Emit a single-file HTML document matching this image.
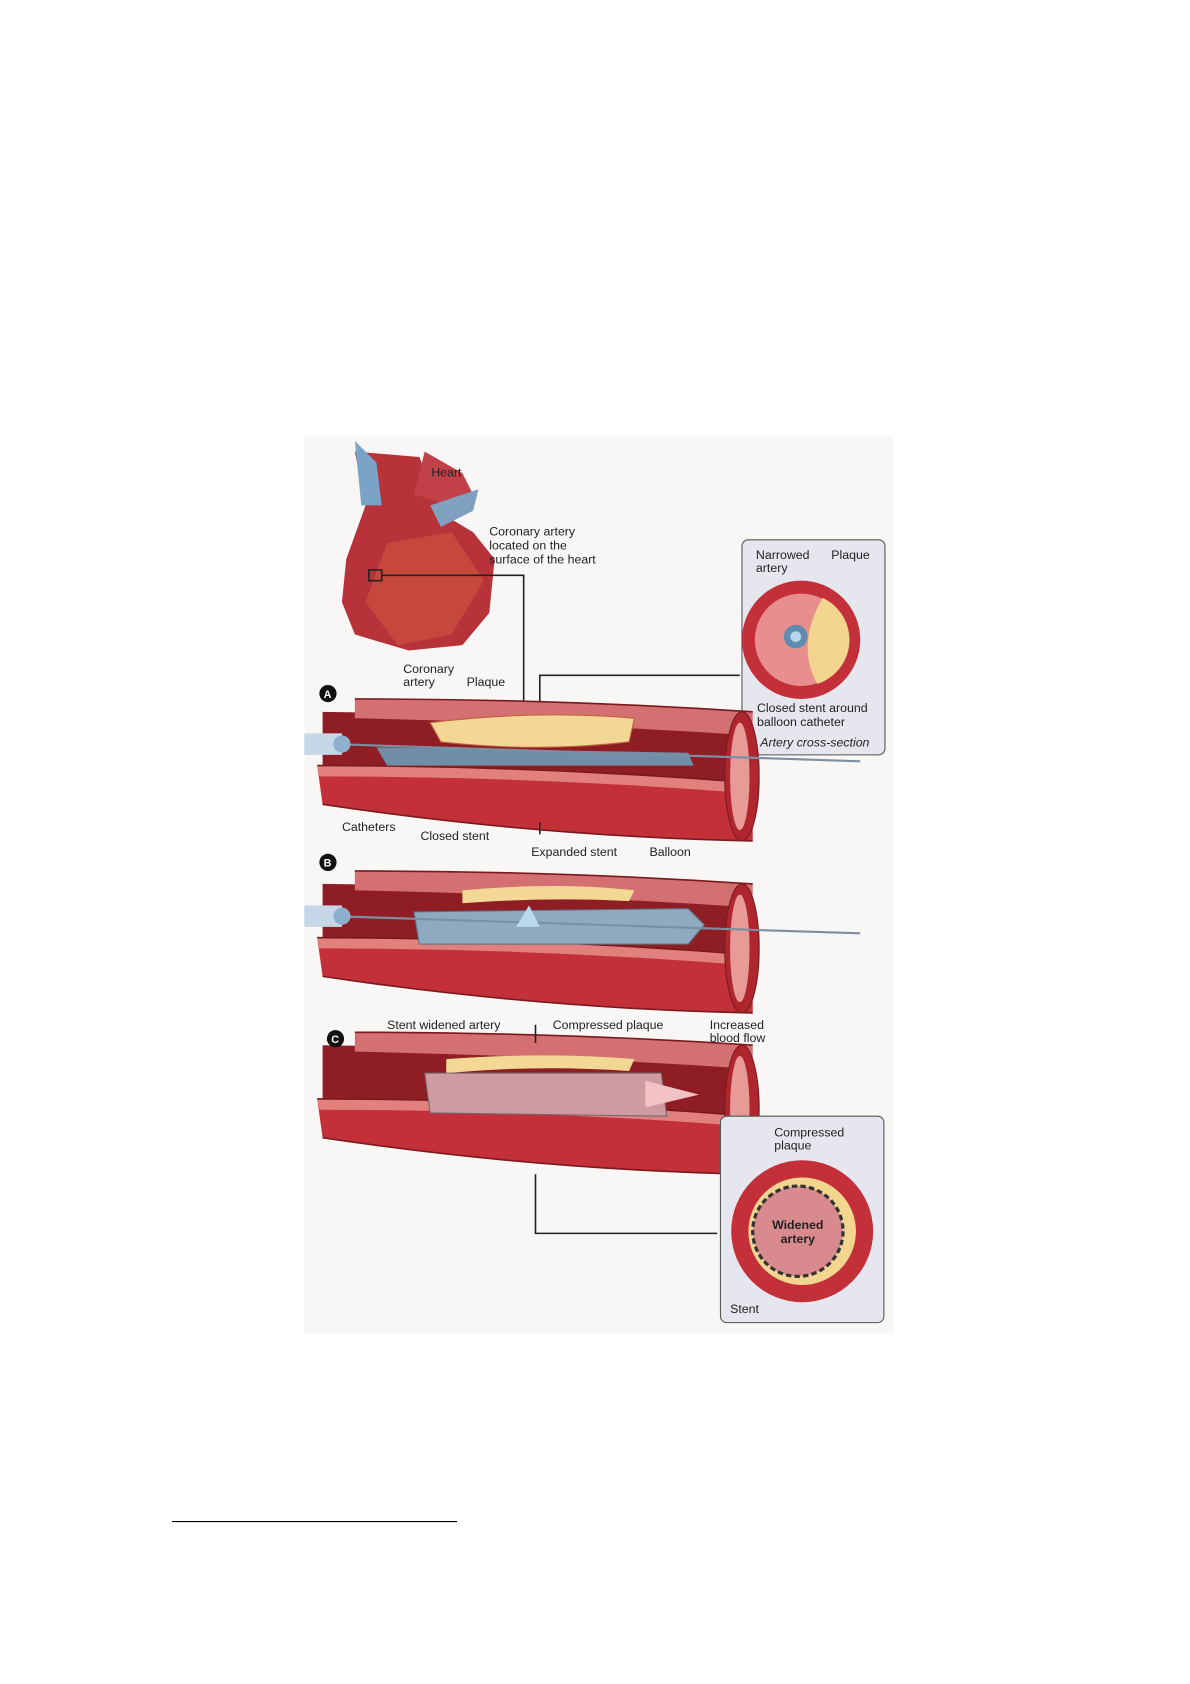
<!DOCTYPE html>
<html><head><meta charset="utf-8"><style>
html,body{margin:0;padding:0;background:#fff}
svg{display:block}
text{font-family:"Liberation Sans",sans-serif;font-size:11.5px;fill:#222}
</style></head><body>
<svg width="1190" height="1684" viewBox="0 0 1190 1684" xmlns="http://www.w3.org/2000/svg">
<rect width="1190" height="1684" fill="#fff"/>
<defs>
<g id="tube">
  <path d="M300,662 L695,668 L695,772 L300,720 Z" fill="#8e1d24"/>
  <path d="M330,650 Q520,650 700,662 L700,684 Q520,672 330,668 Z" fill="#d46f72"/>
  <path d="M330,650 Q520,650 700,662" stroke="#7a1a1e" stroke-width="1.5" fill="none"/>
  <path d="M295,712 Q500,712 700,728 L700,782 Q500,778 300,748 Z" fill="#c4303a"/>
  <path d="M295,712 Q500,712 700,728 L700,738 Q500,722 297,722 Z" fill="#e2807e"/>
  <path d="M295,712 Q500,712 700,728 M300,748 Q500,778 700,782" stroke="#7a1a1e" stroke-width="1.5" fill="none"/>
  <ellipse cx="690" cy="722" rx="16" ry="60" fill="#b0262f" stroke="#7a1a1e"/>
  <ellipse cx="688" cy="722" rx="9" ry="50" fill="#e89a96"/>
</g>
</defs>
<g transform="scale(1.0753)">
<rect x="283" y="405" width="548" height="835" fill="#f8f7f5"/>
<!-- heart -->
<path d="M330,420 L340,470 L322,520 L318,560 L330,590 L380,605 L430,600 L455,570 L460,520 L440,495 L415,480 L400,450 L390,425 Z" fill="#b8323a"/>
<path d="M330,410 L336,470 L355,470 L350,430 Z" fill="#7aa3c8"/>
<path d="M395,420 L385,460 L420,470 L440,460 L430,440 Z" fill="#c24048"/>
<path d="M400,470 L445,455 L440,475 L410,490 Z" fill="#7fa0bf"/>
<path d="M360,505 L420,495 L450,540 L420,590 L370,600 L340,560 Z" fill="#c94e3f" opacity=".8"/>
<rect x="343" y="530" width="12" height="10" fill="none" stroke="#222" stroke-width="1.5"/>
<polyline points="355,535 487,535 487,655" fill="none" stroke="#222" stroke-width="1.5"/>
<text x="401" y="443">Heart</text>
<text x="455" y="498">Coronary artery</text>
<text x="455" y="511">located on the</text>
<text x="455" y="524">surface of the heart</text>
<!-- inset 1 -->
<polyline points="502,662 502,628 688,628" fill="none" stroke="#222" stroke-width="1.5"/>
<rect x="690" y="502" width="133" height="200" rx="6" fill="#e6e6ee" stroke="#555"/>
<circle cx="745" cy="595" r="55" fill="#c4303a"/>
<circle cx="745" cy="595" r="43" fill="#e88f8e"/>
<path d="M765,556 A43,43 0 0 1 760,636 Q740,600 765,556 Z" fill="#f2d690"/>
<circle cx="740" cy="592" r="11" fill="#5e8cb0"/>
<circle cx="740" cy="592" r="5" fill="#b8d4ea"/>
<text x="703" y="520">Narrowed</text><text x="703" y="532">artery</text>
<text x="773" y="520">Plaque</text>
<text x="704" y="662">Closed stent around</text>
<text x="704" y="675">balloon catheter</text>
<text x="707" y="694" font-style="italic">Artery cross-section</text>
<!-- A -->
<use href="#tube"/>
<path d="M400,672 Q500,660 590,668 L585,690 Q500,700 410,690 Z" fill="#f3d795" stroke="#c06040"/>
<path d="M350,695 L640,700 L645,712 L360,712 Z" fill="#6f8fa8"/>
<line x1="310" y1="692" x2="800" y2="708" stroke="#7c8fa2" stroke-width="2"/>
<rect x="283" y="682" width="35" height="20" fill="#c6d8e8"/>
<circle cx="318" cy="692" r="8" fill="#8fb0cc"/>
<circle cx="305" cy="645" r="8" fill="#111"/><text x="301" y="649" style="fill:#fff;font-weight:bold;font-size:10px">A</text>
<text x="375" y="626">Coronary</text><text x="375" y="638">artery</text>
<text x="434" y="638">Plaque</text>
<text x="318" y="773">Catheters</text>
<text x="391" y="781">Closed stent</text>
<line x1="502" y1="765" x2="502" y2="776" stroke="#222" stroke-width="1.5"/>
<!-- B -->
<g transform="translate(0,160)"><use href="#tube"/></g>
<path d="M430,828 Q520,820 590,828 L585,838 Q510,834 430,840 Z" fill="#f3d795"/>
<path d="M385,848 L640,845 L655,860 L640,878 L390,878 Z" fill="#8fa9c0" stroke="#5b7288"/>
<line x1="310" y1="852" x2="800" y2="868" stroke="#7c8fa2" stroke-width="2"/>
<rect x="283" y="842" width="35" height="20" fill="#c6d8e8"/>
<circle cx="318" cy="852" r="8" fill="#8fb0cc"/>
<path d="M480,862 L492,842 L502,862 Z" fill="#b9d9ef"/>
<circle cx="305" cy="802" r="8" fill="#111"/><text x="301" y="806" style="fill:#fff;font-weight:bold;font-size:10px">B</text>
<text x="494" y="796">Expanded stent</text>
<text x="604" y="796">Balloon</text>
<!-- C -->
<g transform="translate(0,310)"><use href="#tube"/></g>
<path d="M415,985 Q510,978 590,985 L585,996 Q500,990 415,998 Z" fill="#f3d795"/>
<path d="M395,998 L615,998 L620,1038 L400,1035 Z" fill="#cf9aa0" stroke="#6a6a70"/>
<path d="M600,1005 L650,1018 L600,1030 Z" fill="#f2c2c4"/>
<circle cx="312" cy="966" r="8" fill="#111"/><text x="308" y="970" style="fill:#fff;font-weight:bold;font-size:10px">C</text>
<text x="360" y="957">Stent widened artery</text>
<text x="514" y="957">Compressed plaque</text>
<text x="660" y="957">Increased</text><text x="660" y="969">blood flow</text>
<line x1="498" y1="953" x2="498" y2="970" stroke="#222" stroke-width="1.5"/>
<polyline points="498,1092 498,1147 667,1147" fill="none" stroke="#222" stroke-width="1.5"/>
<!-- inset 2 -->
<rect x="670" y="1038" width="152" height="192" rx="6" fill="#e6e6ee" stroke="#555"/>
<circle cx="746" cy="1145" r="66" fill="#c4303a"/>
<circle cx="746" cy="1145" r="50" fill="#f2d690"/>
<circle cx="742" cy="1145" r="42" fill="#d98a8e" stroke="#333" stroke-width="3" stroke-dasharray="5 3"/>
<text x="718" y="1143" style="font-weight:bold">Widened</text><text x="726" y="1156" style="font-weight:bold">artery</text>
<text x="720" y="1057">Compressed</text><text x="720" y="1069">plaque</text>
<text x="679" y="1221">Stent</text>
<line x1="160" y1="1415" x2="425" y2="1415" stroke="#000" stroke-width="1"/>
</g>
</svg>
</body></html>
